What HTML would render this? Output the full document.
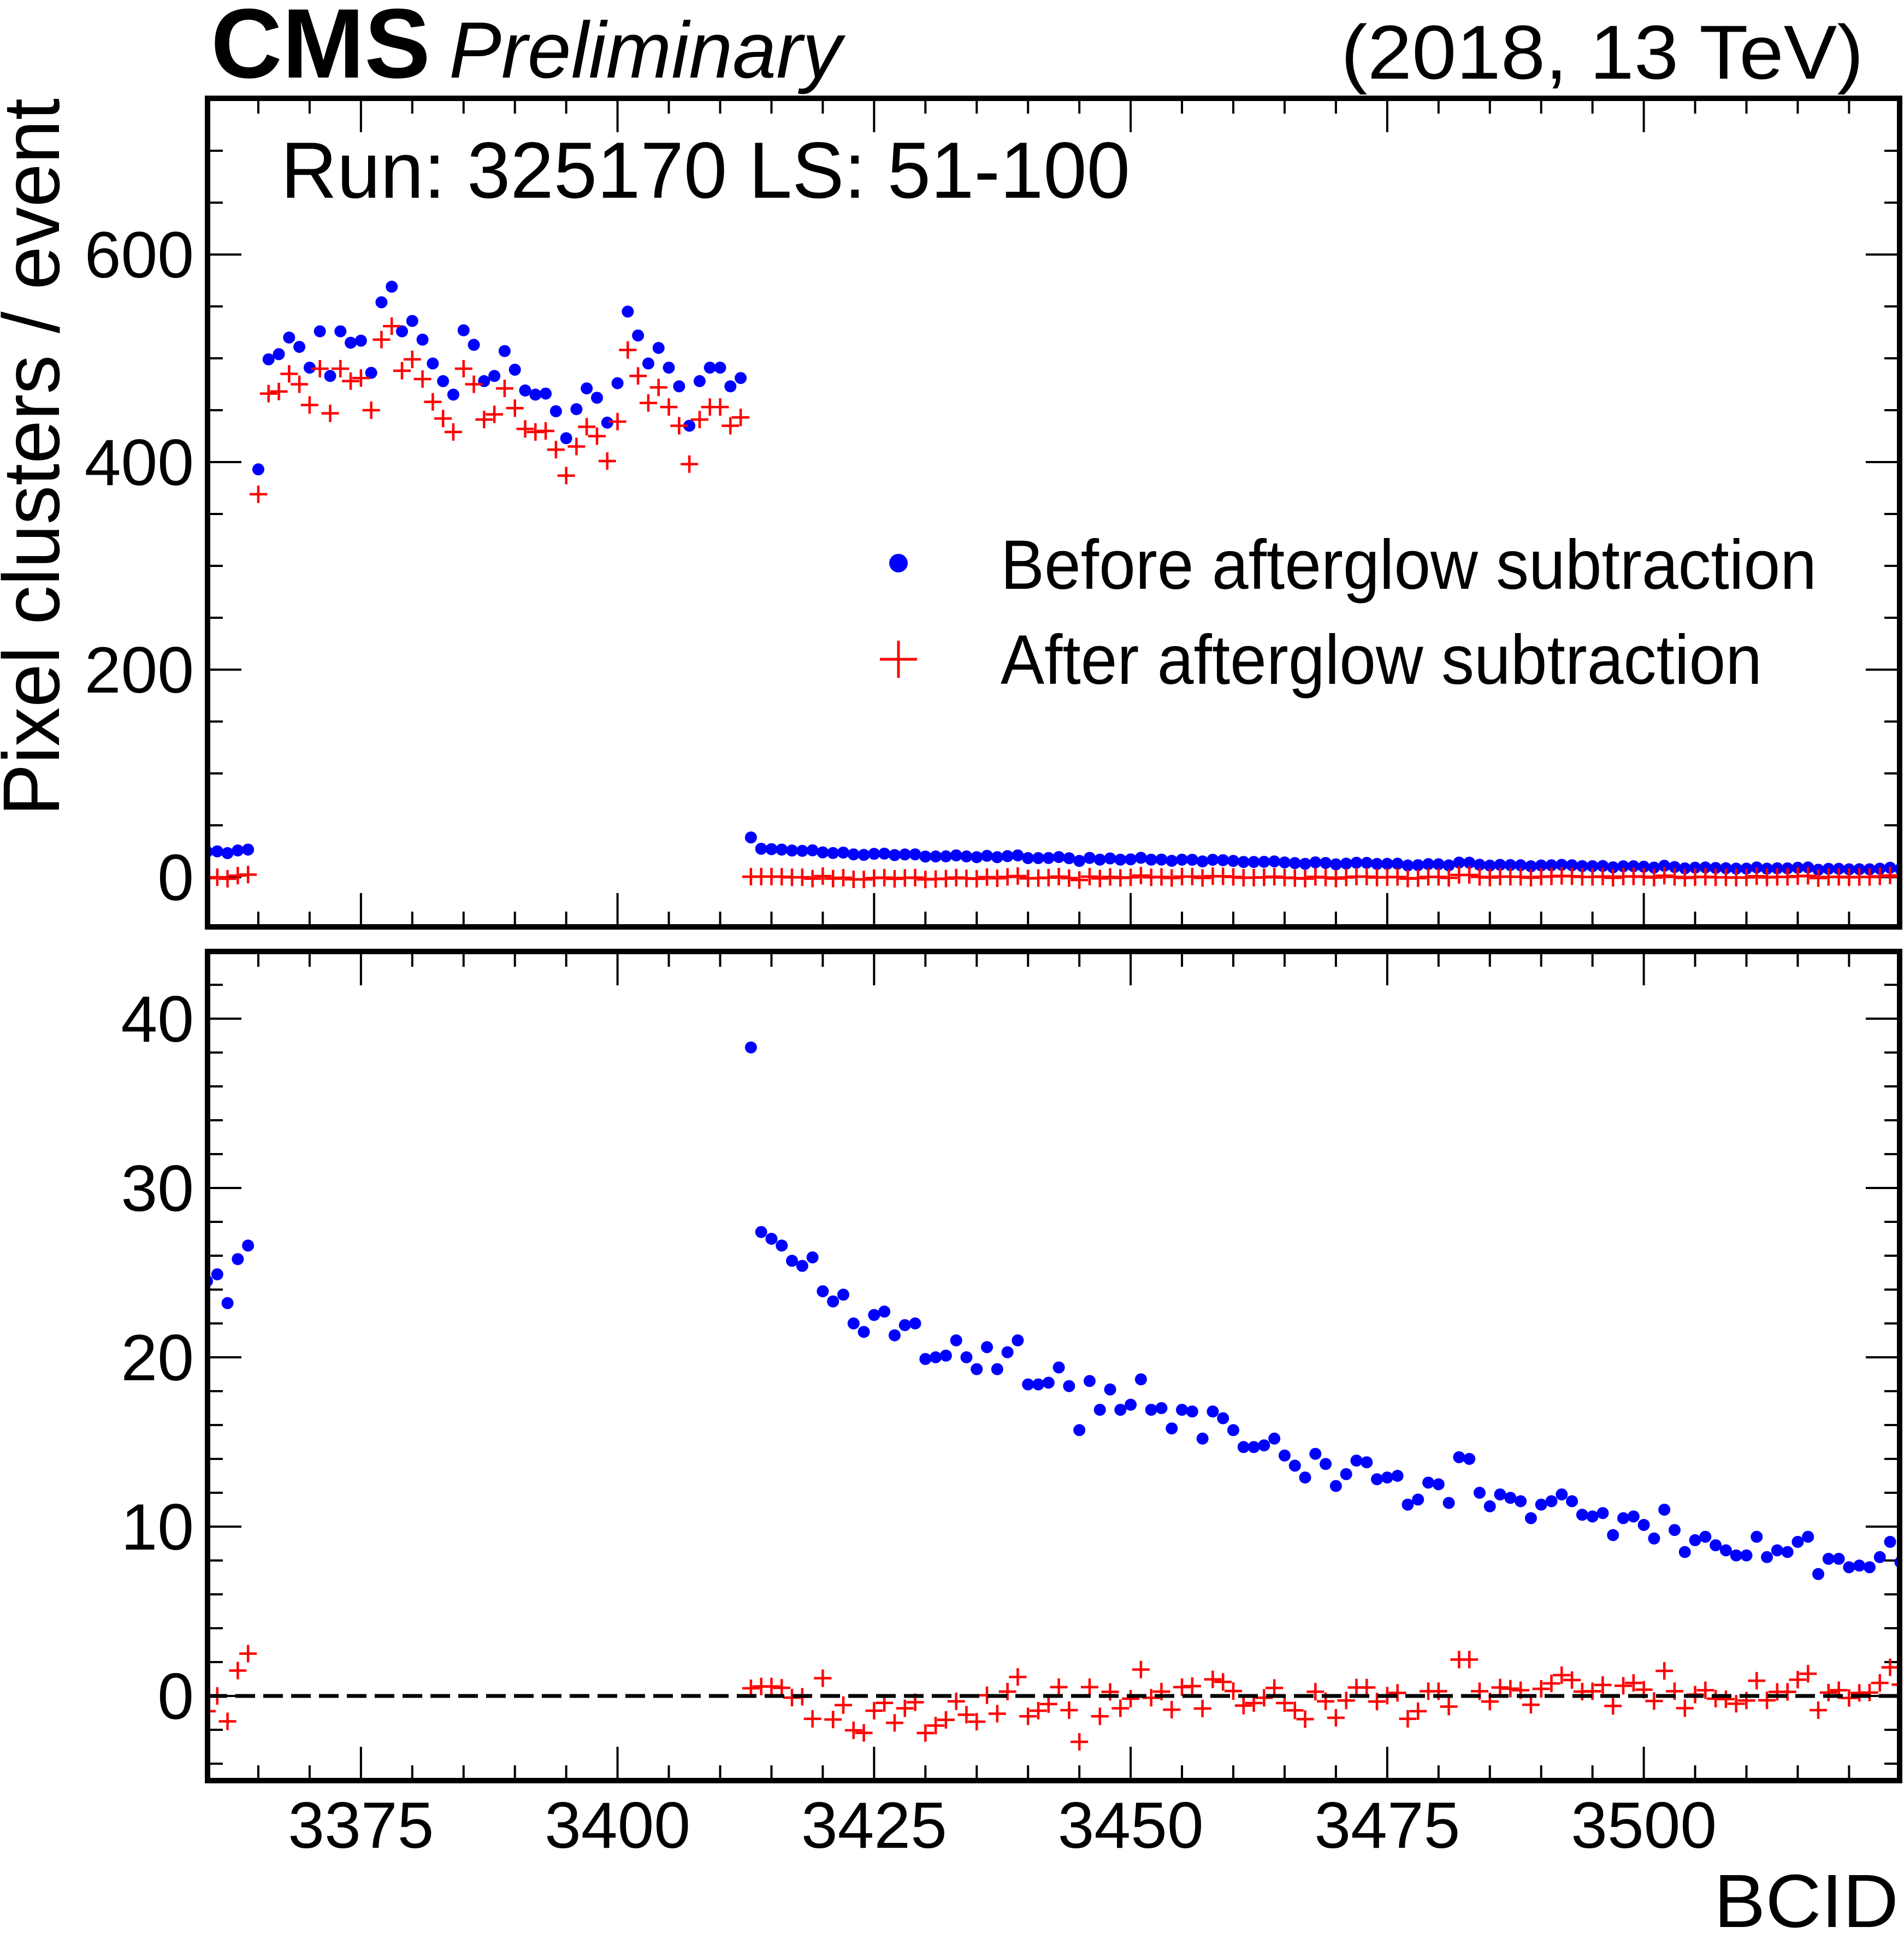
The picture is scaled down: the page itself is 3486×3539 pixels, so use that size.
<!DOCTYPE html>
<html><head><meta charset="utf-8"><style>
html,body{margin:0;padding:0;background:#fff;}
svg{display:block;font-family:"Liberation Sans",Arial,sans-serif;}
</style></head>
<body>
<svg id="chart" xmlns="http://www.w3.org/2000/svg" width="3486" height="3539" viewBox="0 0 3486 3539">
<rect x="0" y="0" width="3486" height="3539" fill="#fff"/>
<defs>
<clipPath id="clipTop"><rect x="380" y="180" width="3098" height="1517"/></clipPath>
<clipPath id="clipBot"><rect x="380" y="1740" width="3098" height="1520"/></clipPath>
</defs>
<text x="386" y="142" font-size="181" font-weight="bold" textLength="402" lengthAdjust="spacingAndGlyphs">CMS</text>
<text x="822" y="142" font-size="146" font-style="italic" textLength="719" lengthAdjust="spacingAndGlyphs">Preliminary</text>
<text x="3412" y="144" font-size="140" text-anchor="end" textLength="957" lengthAdjust="spacingAndGlyphs">(2018, 13 TeV)</text>
<text x="514" y="362" font-size="146" textLength="1555" lengthAdjust="spacingAndGlyphs">Run: 325170 LS: 51-100</text>
<text transform="translate(108,1494) rotate(-90)" font-size="147" textLength="1314" lengthAdjust="spacingAndGlyphs">Pixel clusters / event</text>
<text x="3138" y="3528" font-size="138" textLength="338" lengthAdjust="spacingAndGlyphs">BCID</text>
<g id="axes"></g>
<g id="topMarks" clip-path="url(#clipTop)"></g>
<g id="botMarks" clip-path="url(#clipBot)"></g>
<line x1="380" y1="3105" x2="3478" y2="3105" stroke="#000" stroke-width="7" stroke-dasharray="36,15"/>
<g id="legend">
<circle cx="1645" cy="1031" r="17" fill="#0000ff"/>
<text x="1832" y="1078" font-size="128" textLength="1494" lengthAdjust="spacingAndGlyphs">Before afterglow subtraction</text>
<path d="M1611,1207 H1679 M1645,1173 V1241" stroke="#ff0000" stroke-width="5" fill="none"/>
<text x="1832" y="1252" font-size="128" textLength="1394" lengthAdjust="spacingAndGlyphs">After afterglow subtraction</text>
</g>
<rect x="380" y="180" width="3098" height="1517" fill="none" stroke="#000" stroke-width="10"/>
<rect x="380" y="1742" width="3098" height="1518" fill="none" stroke="#000" stroke-width="10"/>
</svg>
<script>
const bcidStart = 3360;
const beforeVals = [
24.5,24.9,23.2,25.8,26.6,
393,
499,504,520,511,491,526,483,526,515,517,486,554,569,526,536,518,495,478,465,527,513,478,483,507,
489,469,465,466,449,423,451,471,462,438,476,545,522,495,510,491,473,435,478,491,491,473,481,
38.3,27.4,27.0,26.6,25.7,25.4,25.9,23.9,23.3,23.7,
22.0,21.5,22.5,22.7,21.3,21.9,22.0,19.9,20.0,20.1,
21.0,20.0,19.3,20.6,19.3,20.3,21.0,18.4,18.4,18.5,
19.4,18.3,15.7,18.6,16.9,18.1,16.9,17.2,18.7,16.9,
17.0,15.8,16.9,16.8,15.2,16.8,16.4,15.7,14.7,14.7,
14.8,15.2,14.2,13.6,12.9,14.3,13.7,12.4,13.1,13.9,
13.8,12.8,12.9,13.0,11.3,11.6,12.6,12.5,11.4,14.1,
14.0,12.0,11.2,11.9,11.7,11.5,10.5,11.3,11.5,11.9,
11.5,10.7,10.6,10.8,9.5,10.5,10.6,10.1,9.3,11.0,
9.8,8.5,9.2,9.4,8.9,8.6,8.3,8.3,9.4,8.2,
8.6,8.5,9.1,9.4,7.2,8.1,8.1,7.6,7.7,7.6,
8.2,9.1,7.9];
const afterVals = [
-0.9,0,-1.5,1.5,2.5,
369,
466,468,485,475,455,490,447,490,478,481,450,518,531,488,499,480,458,442,429,490,475,441,446,471,
452,432,429,430,412,387,415,434,425,401,439,508,483,457,472,453,435,398,441,453,453,435,443,
0.45,0.56,0.56,0.48,-0.1,-0.05,-1.35,1.05,-1.39,-0.54,
-2.03,-2.18,-0.87,-0.41,-1.59,-0.73,-0.37,-2.19,-1.75,-1.41,
-0.32,-1.11,-1.52,0.04,-1.05,0.26,1.12,-1.2,-0.87,-0.48,
0.52,-0.84,-2.71,0.52,-1.2,0.24,-0.73,-0.16,1.56,-0.11,
0.26,-0.81,0.52,0.58,-0.74,0.98,0.83,0.29,-0.57,-0.42,
-0.11,0.47,-0.42,-0.85,-1.37,0.25,-0.32,-1.29,-0.27,0.5,
0.5,-0.33,0.02,0.18,-1.35,-0.9,0.28,0.28,-0.63,2.15,
2.15,0.28,-0.33,0.5,0.43,0.34,-0.52,0.42,0.74,1.23,
0.94,0.26,0.28,0.65,-0.59,0.6,0.77,0.37,-0.3,1.48,
0.28,-0.72,0.08,0.34,-0.16,-0.19,-0.46,-0.27,0.9,-0.26,
0.24,0.24,0.96,1.31,-0.84,0.2,0.34,-0.12,0.18,0.2,
0.77,1.69,0.67];
const xTickLabels = [3375,3400,3425,3450,3475,3500];
const topYTickLabels = [0,200,400,600];
const botYTickLabels = [0,10,20,30,40];

const NS = "http://www.w3.org/2000/svg";
const X0 = 380, X1 = 3478;
function xPos(b){ return 379 + (b - 3360) * 18.79; }
function yTop(v){ return 1606 - v * 1.9; }
function yBot(v){ return 3105 - v * 31.0; }
const axes = document.getElementById('axes');
function mk(tag, attrs, parent){
  const e = document.createElementNS(NS, tag);
  for (const k in attrs) e.setAttribute(k, attrs[k]);
  parent.appendChild(e);
  return e;
}
function tick(x1,y1,x2,y2,name){
  const l = mk('line',{x1:x1,y1:y1,x2:x2,y2:y2,stroke:'#000','stroke-width':4},axes);
  
  
}
const panels = [[180,1697],[1742,3260]];
for (let b = 3360; b <= 3525; b += 5){
  const x = xPos(b);
  if (x < X0 + 5 || x > X1 - 5) continue;
  const len = (b % 25 === 0) ? 62 : 28;
  for (const p of panels){
    tick(x, p[0], x, p[0] + len, 'x-tick');
    tick(x, p[1], x, p[1] - len, 'x-tick');
  }
}
for (let v = -50; v <= 750; v += 50){
  const y = yTop(v);
  if (y < 185 || y > 1692) continue;
  const len = (v % 200 === 0) ? 62 : 28;
  tick(X0, y, X0 + len, y, 'top-y-tick');
  tick(X1, y, X1 - len, y, 'top-y-tick');
}
for (let v = -4; v <= 44; v += 2){
  const y = yBot(v);
  if (y < 1747 || y > 3255) continue;
  const len = (v % 10 === 0) ? 62 : 28;
  tick(X0, y, X0 + len, y, 'bottom-y-tick');
  tick(X1, y, X1 - len, y, 'bottom-y-tick');
}
for (const v of topYTickLabels){
  const t = mk('text',{x:355,y:yTop(v)+42,'font-size':120,'text-anchor':'end'},axes);
  t.textContent = v;
  
  
}
for (const v of botYTickLabels){
  const t = mk('text',{x:355,y:yBot(v)+42,'font-size':120,'text-anchor':'end'},axes);
  t.textContent = v;
  
  
}
for (const v of xTickLabels){
  const t = mk('text',{x:xPos(v),y:3383,'font-size':120,'text-anchor':'middle'},axes);
  t.textContent = v;
  
  
}
const gTop = document.getElementById('topMarks');
const gBot = document.getElementById('botMarks');
function drawSeries(g, yf, panel){
  for (let i = 0; i < beforeVals.length; i++){
    const x = xPos(bcidStart + i);
    const c = mk('circle',{cx:x,cy:yf(beforeVals[i]),r:11,fill:'#0000ff'},g);
    
    
  }
  for (let i = 0; i < afterVals.length; i++){
    const x = xPos(bcidStart + i), y = yf(afterVals[i]);
    const p = mk('path',{d:'M'+(x-16)+','+y+' H'+(x+16)+' M'+x+','+(y-16)+' V'+(y+16),stroke:'#ff0000','stroke-width':4.5,fill:'none'},g);
    
    
  }
}
drawSeries(gTop, yTop, 'top');
drawSeries(gBot, yBot, 'bottom');
</script>
</body></html>
